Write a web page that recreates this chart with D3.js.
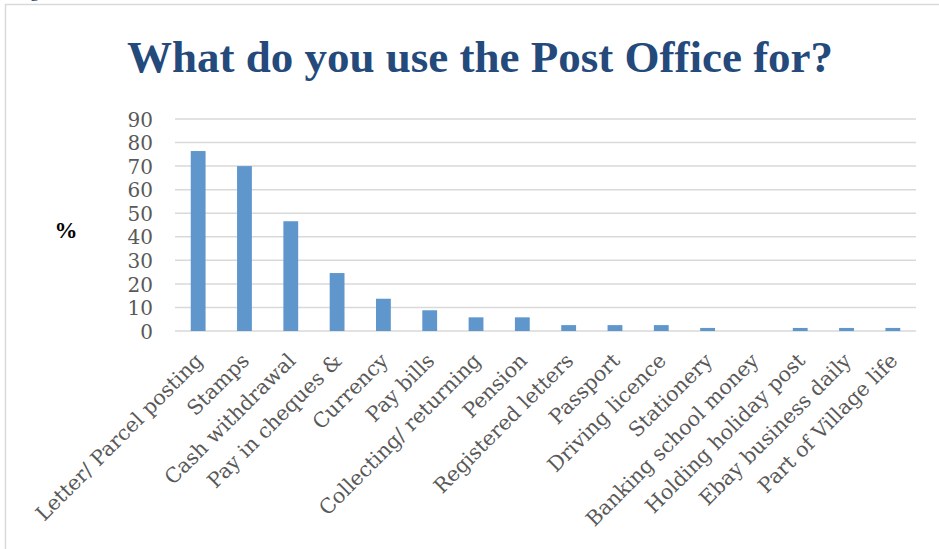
<!DOCTYPE html>
<html>
<head>
<meta charset="utf-8">
<script src="https://cdn.jsdelivr.net/npm/d3@7"></script>
<style>
  body { margin: 0; background: #fff; }
  svg { display: block; }
</style>
</head>
<body>
<svg width="939" height="549"></svg>
<script>
var categories = ["Letter/ Parcel posting", "Stamps", "Cash withdrawal", "Pay in cheques &",
  "Currency", "Pay bills", "Collecting/ returning", "Pension", "Registered letters",
  "Passport", "Driving licence", "Stationery", "Banking school money",
  "Holding holiday post", "Ebay business daily", "Part of Village life"];
var percents = [76.4, 70, 46.6, 24.6, 13.7, 8.8, 5.8, 5.8, 2.5, 2.5, 2.5, 1.3, 0, 1.3, 1.3, 1.3];
var yTicks = [0, 10, 20, 30, 40, 50, 60, 70, 80, 90];

var svg = d3.select("svg");
var plotL = 175, plotR = 916, plotT = 119, plotB = 331;

// bit of caption text cut off above the chart
svg.append("text").attr("x", 30).attr("y", -3)
  .attr("font-family", "'Liberation Serif', serif").attr("font-size", 18)
  .attr("fill", "#1f3864").text("g");

// chart frame (only top and left edges visible in the crop)
svg.append("line").attr("x1", 5).attr("x2", 939).attr("y1", 4.5).attr("y2", 4.5)
  .attr("stroke", "#d9d9d9").attr("stroke-width", 1.5);
svg.append("line").attr("x1", 5.5).attr("x2", 5.5).attr("y1", 4).attr("y2", 549)
  .attr("stroke", "#d9d9d9").attr("stroke-width", 1.5);

var x = d3.scaleBand().domain(categories).range([plotL, plotR]).paddingInner(0.68).paddingOuter(0.34);
var y = d3.scaleLinear().domain([0, 90]).range([plotB, plotT]);

svg.append("text")
  .attr("x", 480).attr("y", 72)
  .attr("text-anchor", "middle")
  .attr("font-family", "'Liberation Serif', serif")
  .attr("font-weight", "bold")
  .attr("font-size", 45)
  .attr("fill", "#24497b")
  .text("What do you use the Post Office for?");

// gridlines
svg.append("g")
  .selectAll("line").data(yTicks).enter().append("line")
  .attr("x1", plotL).attr("x2", plotR)
  .attr("y1", function(d) { return y(d); })
  .attr("y2", function(d) { return y(d); })
  .attr("stroke", "#d9d9d9").attr("stroke-width", 1.5);

// y axis labels
var yAxis = d3.axisLeft(y).tickValues(yTicks).tickSize(0).tickPadding(0);
var gy = svg.append("g").attr("transform", "translate(153,0)").call(yAxis);
gy.select(".domain").remove();
gy.selectAll("text")
  .attr("font-family", "'DejaVu Serif', serif")
  .attr("font-size", 20)
  .attr("fill", "#595959")
  .attr("dy", "0.36em");

// bars
svg.append("g")
  .selectAll("rect").data(percents).enter().append("rect")
  .attr("x", function(d, i) { return x(categories[i]); })
  .attr("y", function(d) { return y(d); })
  .attr("width", x.bandwidth())
  .attr("height", function(d) { return plotB - y(d); })
  .attr("fill", "#5f97cc");

// category labels
var xAxis = d3.axisBottom(x).tickSize(0).tickPadding(0);
var gx = svg.append("g").attr("transform", "translate(0," + plotB + ")").call(xAxis);
gx.select(".domain").remove();
gx.selectAll("text")
  .attr("font-family", "'DejaVu Serif', serif")
  .attr("font-size", 20.5)
  .attr("fill", "#595959")
  .attr("text-anchor", "end")
  .attr("dy", null)
  .attr("y", 0)
  .attr("transform", "translate(6,31) rotate(-45)");

svg.append("text")
  .attr("x", 66).attr("y", 238)
  .attr("text-anchor", "middle")
  .attr("font-family", "'Liberation Serif', serif")
  .attr("font-weight", "bold")
  .attr("font-size", 23)
  .attr("fill", "#000")
  .text("%");
</script>
</body>
</html>
